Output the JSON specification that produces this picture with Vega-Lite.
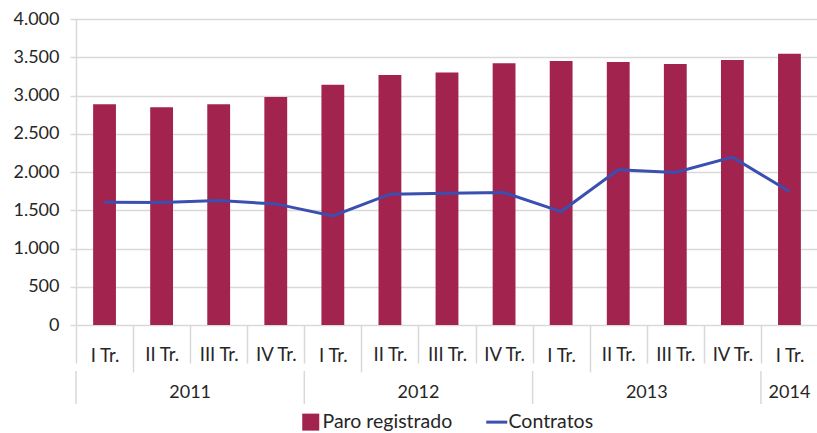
{
  "$schema": "https://vega.github.io/schema/vega-lite/v6.json",
  "padding": {"left": 12, "top": 10, "right": 0, "bottom": 0},
  "autosize": {"type": "pad"},
  "bounds": "flush",
  "spacing": 46,
  "config": {
    "view": {"stroke": null},
    "font": "Lato",
    "text": {"font": "Lato"}
  },
  "datasets": {
    "trimestres": [
      {"periodo": "2011 I Tr.", "paro": 2885, "contratos": 1605},
      {"periodo": "2011 II Tr.", "paro": 2845, "contratos": 1600},
      {"periodo": "2011 III Tr.", "paro": 2885, "contratos": 1626},
      {"periodo": "2011 IV Tr.", "paro": 2980, "contratos": 1583},
      {"periodo": "2012 I Tr.", "paro": 3140, "contratos": 1426},
      {"periodo": "2012 II Tr.", "paro": 3267, "contratos": 1710},
      {"periodo": "2012 III Tr.", "paro": 3302, "contratos": 1723},
      {"periodo": "2012 IV Tr.", "paro": 3423, "contratos": 1731},
      {"periodo": "2013 I Tr.", "paro": 3450, "contratos": 1483},
      {"periodo": "2013 II Tr.", "paro": 3437, "contratos": 2028},
      {"periodo": "2013 III Tr.", "paro": 3411, "contratos": 1993},
      {"periodo": "2013 IV Tr.", "paro": 3463, "contratos": 2194},
      {"periodo": "2014 I Tr.", "paro": 3546, "contratos": 1745}
    ],
    "anios": [
      {"anio": "2011", "inicio": 0, "centro": 2},
      {"anio": "2012", "inicio": 4, "centro": 6},
      {"anio": "2013", "inicio": 8, "centro": 10},
      {"anio": "2014", "inicio": 12, "centro": 12.5}
    ]
  },
  "vconcat": [
    {
      "width": 742,
      "height": 306,
      "data": {"name": "trimestres"},
      "encoding": {
        "x": {
          "field": "periodo",
          "type": "nominal",
          "sort": null,
          "scale": {"paddingInner": 0, "paddingOuter": 0},
          "axis": {
            "title": null,
            "labelExpr": "datum.value ? substring(datum.value, 5) : ''",
            "labelAngle": 0,
            "labelFont": "Lato",
            "labelFontSize": 18.5,
            "labelColor": "#262626",
            "labelPadding": {
              "condition": {
                "test": "indexof(['2011 I Tr.','2012 I Tr.','2013 I Tr.','2014 I Tr.'], datum.value) >= 0",
                "value": -26
              },
              "value": -18
            },
            "tickBand": "extent",
            "tickColor": "#d9d9d9",
            "tickWidth": 1.5,
            "tickSize": {
              "condition": {
                "test": "indexof(['2011 I Tr.','2012 I Tr.','2013 I Tr.','2014 I Tr.'], datum.value) >= 0",
                "value": 47
              },
              "value": 38
            },
            "domain": false,
            "grid": false
          }
        },
        "y": {
          "type": "quantitative",
          "scale": {"domain": [0, 4000], "nice": false},
          "axis": {
            "title": null,
            "values": [0, 500, 1000, 1500, 2000, 2500, 3000, 3500, 4000],
            "labelExpr": "replace(format(datum.value, ','), ',', '.')",
            "labelFont": "Lato",
            "labelFontSize": 18,
            "labelColor": "#262626",
            "labelPadding": 11,
            "labelOverlap": false,
            "tickSize": 6,
            "tickColor": "#d9d9d9",
            "tickWidth": 1.5,
            "domainColor": "#d9d9d9",
            "domainWidth": 1.5,
            "gridColor": "#d9d9d9",
            "gridWidth": 1.5
          }
        }
      },
      "layer": [
        {
          "mark": {"type": "bar", "width": {"band": 0.4}},
          "encoding": {
            "y": {"field": "paro"},
            "color": {
              "datum": "Paro registrado",
              "type": "nominal",
              "scale": {
                "domain": ["Paro registrado", "Contratos"],
                "range": ["#a3234f", "#3b4fb0"]
              },
              "legend": {
                "title": null,
                "orient": "none",
                "legendX": 225,
                "legendY": 393,
                "direction": "horizontal",
                "labelFont": "Lato",
                "labelFontSize": 19.5,
                "labelColor": "#262626",
                "labelOffset": 2,
                "columnPadding": 27,
                "symbolSize": 289,
                "encode": {
                  "symbols": {
                    "update": {
                      "shape": {"signal": "datum.value === 'Contratos' ? 'stroke' : 'square'"},
                      "size": {"signal": "datum.value === 'Contratos' ? 441 : 289"},
                      "strokeWidth": {"signal": "datum.value === 'Contratos' ? 3 : 0"},
                      "fill": {"signal": "datum.value === 'Contratos' ? '#3b4fb0' : '#a3234f'"},
                      "stroke": {"signal": "datum.value === 'Contratos' ? '#3b4fb0' : '#a3234f'"},
                      "opacity": {"value": 1}
                    }
                  }
                }
              }
            }
          }
        },
        {
          "mark": {"type": "line", "strokeWidth": 3},
          "encoding": {
            "y": {"field": "contratos"},
            "color": {"datum": "Contratos", "type": "nominal"}
          }
        }
      ]
    },
    {
      "width": 742,
      "height": 33,
      "data": {"name": "anios"},
      "layer": [
        {
          "mark": {"type": "rule", "color": "#d9d9d9", "strokeWidth": 1.5},
          "encoding": {
            "x": {
              "field": "inicio",
              "type": "quantitative",
              "scale": {"domain": [0, 13], "nice": false, "zero": false},
              "axis": null
            }
          }
        },
        {
          "mark": {"type": "text", "font": "Lato", "fontSize": 18, "color": "#262626", "dy": 5},
          "encoding": {
            "x": {"field": "centro", "type": "quantitative"},
            "text": {"field": "anio", "type": "nominal"}
          }
        }
      ]
    }
  ]
}
